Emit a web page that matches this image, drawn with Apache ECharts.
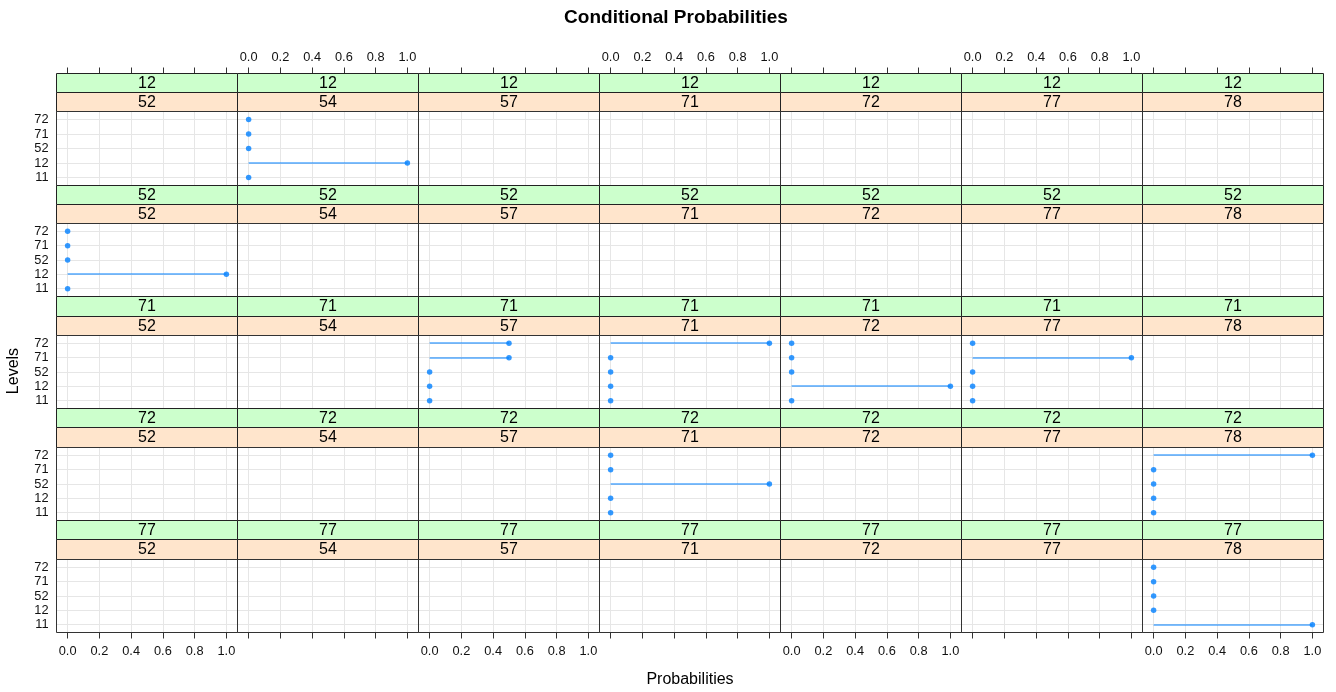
<!DOCTYPE html>
<html><head><meta charset="utf-8">
<script src="https://cdn.jsdelivr.net/npm/echarts@6/dist/echarts.min.js"></script>
<style>html,body{margin:0;padding:0;background:#fff}#c{width:1336px;height:692px}</style>
</head><body><div id="c"></div>
<script>
// ---- data ----
const rowLevels = ['12', '52', '71', '72', '77'];          // upper (green) strip, top to bottom
const colLevels = ['52', '54', '57', '71', '72', '77', '78'];  // lower (orange) strip, left to right
const yLevels = ['11', '12', '52', '71', '72'];            // y categories, bottom to top
const xTicks = [0, 0.2, 0.4, 0.6, 0.8, 1.0];
const xTickLabels = ['0.0', '0.2', '0.4', '0.6', '0.8', '1.0'];

// probabilities, in yLevels order (11, 12, 52, 71, 72)
const prob_12_54 = [0, 1, 0, 0, 0];
const prob_52_52 = [0, 1, 0, 0, 0];
const prob_71_57 = [0, 0, 0, 0.5, 0.5];
const prob_71_71 = [0, 0, 0, 0, 1];
const prob_71_72 = [0, 1, 0, 0, 0];
const prob_71_77 = [0, 0, 0, 1, 0];
const prob_72_71 = [0, 0, 1, 0, 0];
const prob_72_78 = [0, 0, 0, 0, 1];
const prob_77_78 = [1, 0, 0, 0, 0];

const panelData = [
  ['12', '54', prob_12_54],
  ['52', '52', prob_52_52],
  ['71', '57', prob_71_57],
  ['71', '71', prob_71_71],
  ['71', '72', prob_71_72],
  ['71', '77', prob_71_77],
  ['72', '71', prob_72_71],
  ['72', '78', prob_72_78],
  ['77', '78', prob_77_78]
];

// ---- layout ----
const L = 56, R = 1323.3, T = 72.7, B = 631.7;
const nC = colLevels.length, nR = rowLevels.length;
const colW = (R - L) / nC, rowH = (B - T) / nR, stripH = 19.3;
const FONT = '"Liberation Sans", Arial, sans-serif';
const PT = '#0080ff';
const snap = v => Math.round(v) + 0.5;

const grids = [], xAxes = [], yAxes = [], series = [], graphics = [];
const idxOf = (r, c) => r * nC + c;

for (let r = 0; r < nR; r++) {
  for (let c = 0; c < nC; c++) {
    const x0 = snap(L + c * colW), x1 = snap(L + (c + 1) * colW);
    const y0 = snap(T + r * rowH), y1 = snap(T + r * rowH + stripH),
          y2 = snap(T + r * rowH + 2 * stripH), y3 = snap(T + (r + 1) * rowH);
    grids.push({
      left: x0, top: y2, width: x1 - x0, height: y3 - y2, show: false
    });
    const isTop = r === 0, isBottom = r === nR - 1;
    const showLab = (isTop && c % 2 === 1) || (isBottom && c % 2 === 0);
    xAxes.push({
      type: 'value', gridIndex: idxOf(r, c), min: -0.07, max: 1.07,
      position: isTop ? 'top' : 'bottom',
      offset: isTop ? (y2 - y0) : 0,
      axisLine: { show: false },
      axisTick: { show: isTop || isBottom, length: 6, inside: false, customValues: xTicks,
                  lineStyle: { color: '#333', width: 1 } },
      axisLabel: { show: showLab, customValues: xTicks, margin: isTop ? 10 : 12,
                   formatter: v => xTickLabels[xTicks.findIndex(t => Math.abs(t - v) < 1e-9)] || '',
                   fontFamily: FONT, fontSize: 12.8, color: '#111' },
      splitLine: { show: true, lineStyle: { color: '#e6e6e6', width: 1 } }
    });
    yAxes.push({
      type: 'value', gridIndex: idxOf(r, c), min: 0.45, max: 5.55,
      axisLine: { show: false },
      axisTick: { show: false, customValues: [1, 2, 3, 4, 5] },
      axisLabel: { show: c === 0, customValues: [1, 2, 3, 4, 5], margin: 8,
                   formatter: v => yLevels[Math.round(v) - 1] || '',
                   fontFamily: FONT, fontSize: 12.8, color: '#111' },
      splitLine: { show: true, lineStyle: { color: '#e6e6e6', width: 1 } }
    });
    // strips
    graphics.push({
      type: 'rect', shape: { x: x0, y: y0, width: x1 - x0, height: y1 - y0 },
      style: { fill: '#ccffcc', stroke: '#222', lineWidth: 1 }, z: 20
    });
    graphics.push({
      type: 'rect', shape: { x: x0, y: y1, width: x1 - x0, height: y2 - y1 },
      style: { fill: '#ffe5cc', stroke: '#222', lineWidth: 1 }, z: 20
    });
    // panel border on top of grid lines
    graphics.push({
      type: 'rect', shape: { x: x0, y: y2, width: x1 - x0, height: y3 - y2 },
      style: { fill: null, stroke: '#333', lineWidth: 1 }, z: 20, silent: true
    });
    graphics.push({
      type: 'text', z: 21,
      style: { text: rowLevels[r], x: (x0 + x1) / 2, y: (y0 + y1) / 2 + 0.5, textAlign: 'center',
               textVerticalAlign: 'middle', font: '16px ' + FONT, fill: '#000' }
    });
    graphics.push({
      type: 'text', z: 21,
      style: { text: colLevels[c], x: (x0 + x1) / 2, y: (y1 + y2) / 2 + 0.5, textAlign: 'center',
               textVerticalAlign: 'middle', font: '16px ' + FONT, fill: '#000' }
    });
  }
}

panelData.forEach(([rowLev, colLev, vals]) => {
  const i = idxOf(rowLevels.indexOf(rowLev), colLevels.indexOf(colLev));
  const pts = vals.map((v, k) => [v, k + 1]);
  series.push({
    type: 'custom', coordinateSystem: 'cartesian2d', xAxisIndex: i, yAxisIndex: i,
    silent: true, z: 3,
    renderItem: (params, api) => {
      const a = api.coord([0, api.value(1)]);
      const b = api.coord([api.value(0), api.value(1)]);
      const y = Math.round(a[1]);
      return { type: 'line', shape: { x1: a[0], y1: y, x2: b[0], y2: y },
               style: { stroke: PT, lineWidth: 1.2 } };
    },
    data: pts
  });
  series.push({
    type: 'scatter', xAxisIndex: i, yAxisIndex: i, z: 4,
    symbol: 'circle', symbolSize: 5.5, itemStyle: { color: PT },
    data: pts
  });
});

graphics.push({
  type: 'text',
  style: { text: 'Conditional Probabilities', x: 676, y: 18, textAlign: 'center', textVerticalAlign: 'middle',
           font: 'bold 19px ' + FONT, fill: '#000' }
});
graphics.push({
  type: 'text',
  style: { text: 'Probabilities', x: 690, y: 680, textAlign: 'center', textVerticalAlign: 'middle',
           font: '16px ' + FONT, fill: '#000' }
});
graphics.push({
  type: 'text', x: 14, y: 371, rotation: Math.PI / 2,
  style: { text: 'Levels', x: 0, y: 0, textAlign: 'center', textVerticalAlign: 'middle',
           font: '16px ' + FONT, fill: '#000' }
});

const chart = echarts.init(document.getElementById('c'), null, { renderer: 'canvas' });
chart.setOption({
  animation: false,
  backgroundColor: '#fff',
  grid: grids, xAxis: xAxes, yAxis: yAxes, series: series,
  graphic: { elements: graphics }
});
</script></body></html>
